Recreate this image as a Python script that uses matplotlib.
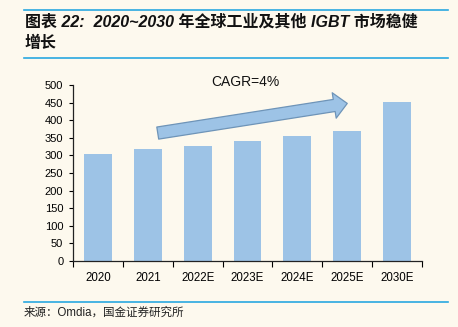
import matplotlib
matplotlib.use("Agg")
import matplotlib.pyplot as plt
from matplotlib.patches import FancyArrowPatch, ArrowStyle
from matplotlib.lines import Line2D

categories = ["2020", "2021", "2022E", "2023E", "2024E", "2025E", "2030E"]
values = [304, 318, 328, 342, 356, 370, 452]
yticks = [0, 50, 100, 150, 200, 250, 300, 350, 400, 450, 500]

title_line1 = "图表 22:  2020~2030 年全球工业及其他 IGBT 市场稳健"
title_line2 = "增长"
source = "来源：Omdia，国金证券研究所"
cagr = "CAGR=4%"

BG = "#FDF9EE"
BAR = "#9DC3E6"
LINE = "#29A8E0"

plt.rcParams['font.family'] = ['Liberation Sans', 'Noto Sans CJK SC', 'DejaVu Sans']

W, H = 458, 327
fig = plt.figure(figsize=(W/100, H/100), dpi=100, facecolor=BG)

def fx(px):
    return px / W
def fy(py):
    return 1 - py / H

ax = fig.add_axes([fx(73), fy(261), fx(422) - fx(73), fy(85) - fy(261)])
ax.set_facecolor(BG)
x = list(range(len(categories)))
ax.bar(x, values, width=0.56, color=BAR, edgecolor="none")
ax.set_xlim(-0.5, len(categories) - 0.5)
ax.set_ylim(0, 500)
ax.set_yticks(yticks)
ax.set_yticklabels([str(v) for v in yticks], fontsize=8)
ax.set_xticks(x)
ax.set_xticklabels(categories, fontsize=8.3)
ax.set_xticks([i - 0.5 for i in range(len(categories) + 1)], minor=True)
ax.tick_params(axis='x', which='major', length=0, pad=8)
ax.tick_params(axis='x', which='minor', length=4, direction='out', width=0.8)
ax.tick_params(axis='y', length=3, direction='out', width=0.8, pad=4)
for s in ['top', 'right']:
    ax.spines[s].set_visible(False)
for s in ['left', 'bottom']:
    ax.spines[s].set_linewidth(0.9)
    ax.spines[s].set_color("#222222")

# arrow (annotation, in figure pixel coords)
style = ArrowStyle.Simple(head_length=9.5, head_width=18.5, tail_width=8.8)
arr = FancyArrowPatch((fx(155), fy(133.5)), (fx(350), fy(103)),
                      transform=fig.transFigure, arrowstyle=style,
                      facecolor=BAR, edgecolor="#6E94B8", linewidth=0.9,
                      mutation_scale=1)
fig.add_artist(arr)
fig.text(fx(245), fy(82), cagr, fontsize=10, ha='center', va='center', color="#111111")

# frame lines
fig.add_artist(Line2D([fx(24), fx(448)], [fy(10), fy(10)], color=LINE, lw=1.2))
fig.add_artist(Line2D([fx(24), fx(448)], [fy(58), fy(58)], color=LINE, lw=1.2))
fig.add_artist(Line2D([fx(24), fx(448)], [fy(301.5), fy(301.5)], color=LINE, lw=1.2))

fig.text(fx(25), fy(22), title_line1, fontsize=11.5, fontweight='bold', style='italic',
         ha='left', va='center', color="#111111")
fig.text(fx(25), fy(43), title_line2, fontsize=11.5, fontweight='bold', style='italic',
         ha='left', va='center', color="#111111")
fig.text(fx(24), fy(313), source, fontsize=8.3, ha='left', va='center', color="#222222")

fig.savefig("out.png", dpi=100, facecolor=BG)
